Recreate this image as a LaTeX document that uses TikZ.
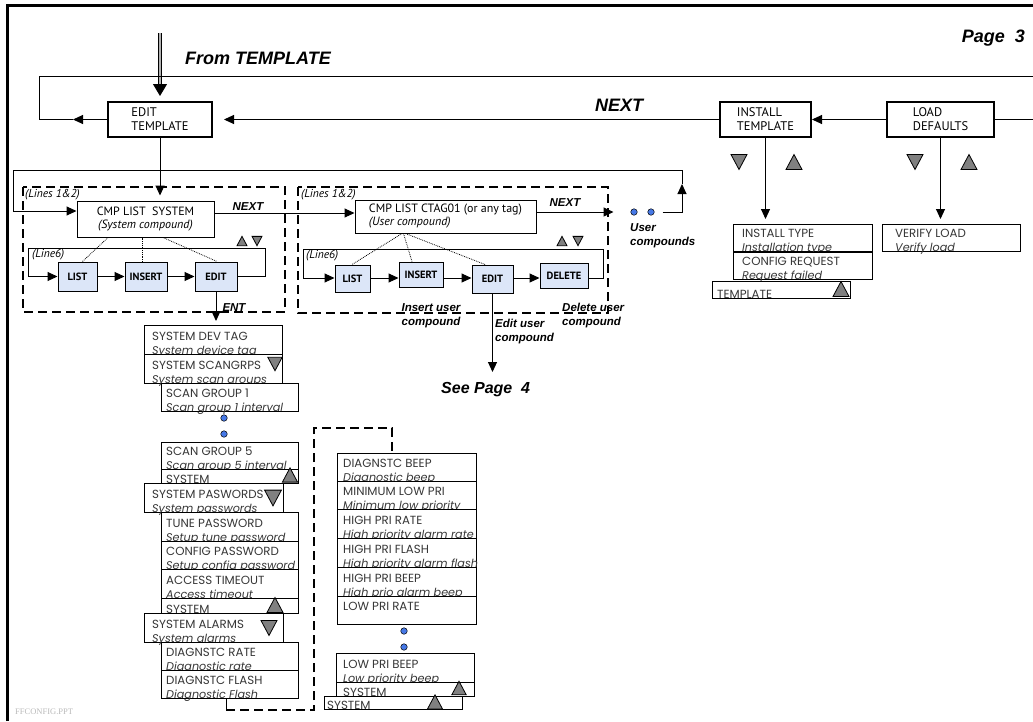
\documentclass[tikz,border=0pt]{standalone}
\usepackage{fontspec}
\setmainfont{Liberation Sans}
\newfontfamily\tahf{PT Sans}
\newfontfamily\cgf{Poppins}
\newfontfamily\serf{Liberation Serif}
\usetikzlibrary{arrows.meta}

\definecolor{btnblue}{RGB}{220,230,248}
\definecolor{dotblue}{RGB}{70,120,230}
\definecolor{trigray}{RGB}{128,128,128}
\definecolor{txtgray}{RGB}{55,55,55}

\tikzset{
  arr/.style={-{Triangle[length=10pt,width=9pt]}, line width=1pt},
  conn/.style={line width=1pt},
  tbox/.style={draw, line width=2pt, fill=white, align=left, inner sep=0pt,
    font=\tahf\fontsize{12.5}{14}\selectfont},
  cbox/.style={draw, line width=1pt, fill=white, inner sep=0pt,
    font=\tahf\fontsize{12}{13}\selectfont},
  bbox/.style={draw, line width=1pt, fill=btnblue, inner sep=0pt,
    font=\tahf\bfseries\fontsize{10.5}{13}\selectfont},
  lbox/.style={draw, line width=1.2pt, fill=white, anchor=north west, inner sep=0pt},
  ltx/.style={anchor=base west, inner sep=0pt, text=txtgray,
    font=\cgf\fontsize{11.8}{13}\selectfont},
  lit/.style={anchor=base west, inner sep=0pt, text=txtgray,
    font=\cgf\itshape\fontsize{11.2}{13}\selectfont},
  bi/.style={inner sep=0pt, font=\bfseries\itshape\fontsize{11.5}{14}\selectfont},
  smi/.style={inner sep=0pt, anchor=west, font=\tahf\itshape\fontsize{11.5}{13}\selectfont},
  udot/.style={circle, draw, line width=0.5pt, fill=dotblue, minimum size=6.5pt, inner sep=0pt},
  dashbox/.style={line width=1.2pt, dash pattern=on 9pt off 5pt},
  dotc/.style={line width=0.8pt, densely dotted},
  tup/.pic={\filldraw[fill=trigray, draw=black, line width=0.8pt] (-8,7.5) -- (8,7.5) -- (0,-7.5) -- cycle;},
  tdn/.pic={\filldraw[fill=trigray, draw=black, line width=0.8pt] (-8,-7.5) -- (8,-7.5) -- (0,7.5) -- cycle;}
}

\newcommand\LB[8]{%
  \node[lbox, minimum width=#4pt, minimum height=#5pt] (#1) at (#2,#3) {};
  \node[ltx] (#1-a) at ([xshift=#6pt,yshift=15pt]#1.south west) {#7};
  \node[lit] (#1-b) at ([xshift=#6pt,yshift=0.8pt]#1.south west) {#8};
}
\newcommand\LS[7]{%
  \node[lbox, minimum width=#4pt, minimum height=#5pt] (#1) at (#2,#3) {};
  \node[ltx] (#1-a) at ([xshift=#6pt,yshift=1.2pt]#1.south west) {#7};
}

\begin{document}
\begin{tikzpicture}[x=1pt, y=-1pt]
\useasboundingbox (0,0) rectangle (1033,721);

% frame
\draw[line width=3pt] (7,721) -- (7,5) -- (1033,5);

% titles
\node[bi, font=\bfseries\itshape\fontsize{18}{20}\selectfont, anchor=west] (fromtpl) at (185,58) {From TEMPLATE};
\node[bi, font=\bfseries\itshape\fontsize{18}{20}\selectfont, anchor=east] (page3) at (1025,38) {Page\ \ 3};
\node[bi, font=\bfseries\itshape\fontsize{18}{20}\selectfont] (next0) at (619,105) {NEXT};

% top boxes
\node[tbox, minimum width=104pt, minimum height=35pt] (edittpl) at (160,119.5) {EDIT\\TEMPLATE};
\node[tbox, minimum width=91pt, minimum height=35pt] (insttpl) at (765.5,119.5) {INSTALL\\TEMPLATE};
\node[tbox, minimum width=107pt, minimum height=35pt] (loaddef) at (940.5,119.5) {LOAD\\DEFAULTS};

% double arrow from top
\coordinate (ftop) at (160,33);
\draw[double=gray!60, double distance=2.5pt, line width=0.8pt] (ftop) -- ([yshift=15pt]edittpl.north);
\draw[-{Triangle[length=12pt,width=14pt]}, line width=1pt] ([yshift=16pt]edittpl.north) -- ([yshift=5pt]edittpl.north);

% loop left of edit template
\coordinate (elA) at (73,119.5);
\coordinate (elB) at (39,119.5);
\coordinate (elC) at (39,76);
\coordinate (elD) at (1033,76);
\draw[arr] (edittpl.west) -- (elA);
\draw[conn] (elA) -- (elB) -- (elC) -- (elD);

% NEXT row
\draw[arr, shorten >=11pt] (insttpl.west) -- (edittpl.east);
\draw[arr] (loaddef.west) -- (insttpl.east);
\coordinate (rEdge) at (1033,119.5);
\draw[conn] (loaddef.east) -- (rEdge);

% triangles under install / load
\pic at (739,162) {tdn};
\pic at (794,162) {tup};
\pic at (915,162) {tdn};
\pic at (969,162) {tup};

% dashed groups
\draw[dashbox] (23,187) rectangle (285,312);
\draw[dashbox] (298,187) rectangle (608,313);
\node[smi] (lines1) at (25,195) {(Lines 1\&2)};
\node[smi] (lines2) at (301,195) {(Lines 1\&2)};
\node[smi] (line6a) at (32,255) {(Line6)};
\node[smi] (line6b) at (306,256) {(Line6)};

% compound boxes
\node[cbox, minimum width=137pt, minimum height=36pt, align=center] (cmpsys) at (145.5,219) {CMP LIST\ \ SYSTEM\\\textit{(System compound)}};
\node[cbox, minimum width=181pt, minimum height=33pt, align=left] (ctag) at (445.5,216.5) {CMP LIST CTAG01 (or any tag)\\\textit{(User compound)}};

\draw[arr, shorten >=5pt] (edittpl.south) -- (edittpl.south |- cmpsys.north);

% buttons group 1
\node[bbox, minimum width=39pt, minimum height=29pt] (l1list) at (77.5,276.5) {LIST};
\node[bbox, minimum width=42pt, minimum height=29pt] (l1ins) at (146,276.5) {INSERT};
\node[bbox, minimum width=42pt, minimum height=29pt] (l1edit) at (216,276.5) {EDIT};
\draw[arr] (l1list.east) -- (l1ins.west);
\draw[arr] (l1ins.east) -- (l1edit.west);
\coordinate (g1a) at (265,248);
\coordinate (g1b) at (28,248);
\draw[arr] (l1edit.east) -| (g1a) -- (g1b) |- (l1list.west);
\pic[scale=0.62] at (242,241) {tup};
\pic[scale=0.62] at (257,241) {tdn};
\draw[dotc] ([xshift=-37.5pt]cmpsys.south) -- ([xshift=5pt]l1list.north);
\draw[dotc] ([xshift=-3.5pt]cmpsys.south) -- ([xshift=-4pt]l1ins.north);
\draw[dotc] ([xshift=17.5pt]cmpsys.south) -- ([xshift=1pt]l1edit.north);

% buttons group 2
\coordinate (r2) at (0,278);
\node[bbox, minimum width=35pt, minimum height=27pt] (l2list) at (352.5,278.5) {LIST};
\node[bbox, minimum width=44pt, minimum height=25pt] (l2ins) at (421,274.5) {INSERT};
\node[bbox, minimum width=41pt, minimum height=28pt] (l2edit) at (492.5,279) {EDIT};
\node[bbox, minimum width=48pt, minimum height=25pt] (l2del) at (564,275.5) {DELETE};
\draw[arr] (l2list.east |- r2) -- (l2ins.west |- r2);
\draw[arr] (l2ins.east |- r2) -- (l2edit.west |- r2);
\draw[arr] (l2edit.east |- r2) -- (l2del.west |- r2);
\coordinate (g2a) at (603,249);
\coordinate (g2b) at (303,249);
\draw[arr] (l2del.east |- r2) -| (g2a) -- (g2b) |- (l2list.west |- r2);
\pic[scale=0.62] at (562,241) {tup};
\pic[scale=0.62] at (578,241) {tdn};
\draw[dotc] ([xshift=-43.5pt]ctag.south) -- ([xshift=-0.5pt]l2list.north);
\draw[dotc] ([xshift=-42pt]ctag.south) -- ([xshift=-9pt]l2ins.north);
\draw[dotc] ([xshift=-40pt]ctag.south) -- ([xshift=-7.5pt]l2edit.north);

% NEXT arrows and user compounds
\draw[arr] ([yshift=6pt]cmpsys.east) -- ([yshift=3.5pt]ctag.west);
\node[bi] (next1) at (248,207) {NEXT};
\node[udot] (ud1) at (634,212) {};
\node[udot] (ud2) at (651,212) {};
\draw[arr, shorten >=17pt] ([yshift=4.5pt]ctag.east) -- (ud1.west);
\node[bi] (next2) at (565,203) {NEXT};
\node[bi, anchor=west, align=left] (ucmp) at (630,236) {User\\compounds};
\coordinate (lpU) at (682,184);
\coordinate (lpA) at (682,170);
\coordinate (lpB) at (13,170);
\draw[arr] ([xshift=8pt]ud2.east) -| (lpU);
\draw[arr] (lpU) -- (lpA) -- (lpB) |- ([yshift=8pt]cmpsys.west);

% labels under group 2
\node[bi, align=center] (insu) at (431,316) {Insert user\\compound};
\node[bi, anchor=west, align=left] (editu) at (495,332) {Edit user\\compound};
\node[bi, anchor=west, align=left] (delu) at (562,316) {Delete user\\compound};
\coordinate (seep) at (492.5,372);
\draw[arr] (l2edit.south) -- (seep);
\node[bi, font=\bfseries\itshape\fontsize{16}{18}\selectfont, anchor=west] (seepage) at (441,390) {See Page\ \ 4};

% column 1 list
\LB{sdt}{144}{325}{138}{29}{8}{SYSTEM DEV TAG}{System device tag}
\draw[arr, shorten >=4pt] (l1edit.south) -- (l1edit.south |- sdt.north);
\node[bi] (ent) at (234,308) {ENT};
\LB{ssg}{144}{354}{138}{29}{8}{SYSTEM SCANGRPS}{System scan groups}
\pic[scale=0.9] at (275,364) {tdn};
\LB{sg1}{161}{383}{137}{28}{5}{SCAN GROUP 1}{Scan group 1 interval}
\node[udot] (c1d1) at (224,418) {};
\node[udot] (c1d2) at (224,434) {};
\LB{sg5}{161}{442}{137}{27}{5}{SCAN GROUP 5}{Scan group 5 interval}
\LS{sys1}{161}{469}{137}{14}{5}{SYSTEM}
\pic[scale=0.95] at (290,475) {tup};
\LB{spw}{144}{483}{139}{29}{8}{SYSTEM PASWORDS}{System passwords}
\pic[scale=1.05] at (273,498) {tdn};
\LB{tpw}{161}{512}{137}{29}{5}{TUNE PASSWORD}{Setup tune password}
\LB{cpw}{161}{541}{137}{28}{5}{CONFIG PASSWORD}{Setup config password}
\LB{atm}{161}{569}{137}{29}{5}{ACCESS TIMEOUT}{Access timeout}
\LS{sys2}{161}{598}{137}{15}{5}{SYSTEM}
\pic[scale=1.0] at (275,605) {tup};
\LB{sal}{144}{613}{139}{29}{8}{SYSTEM ALARMS}{System alarms}
\pic[scale=1.0] at (269,628) {tdn};
\LB{drt}{161}{642}{137}{28}{5}{DIAGNSTC RATE}{Diagnostic rate}
\LB{dfl}{161}{670}{137}{28}{5}{DIAGNSTC FLASH}{Diagnostic Flash}

% column 2 list
\LB{dbp}{337}{453}{139}{28}{6}{DIAGNSTC BEEP}{Diagnostic beep}
\LB{mlp}{337}{481}{139}{28}{6}{MINIMUM LOW PRI}{Minimum low priority}
\LB{hpr}{337}{509}{139}{29}{6}{HIGH PRI RATE}{High priority alarm rate}
\LB{hpf}{337}{538}{139}{29}{6}{HIGH PRI FLASH}{High priority alarm flash}
\LB{hpb}{337}{567}{139}{29}{6}{HIGH PRI BEEP}{High prio alarm beep}
\LB{lpr}{337}{596}{139}{28}{6}{LOW PRI RATE}{}
\node[udot] (c2d1) at (404,631) {};
\node[udot] (c2d2) at (404,647) {};
\LB{lpb}{336}{653}{138}{29}{7}{LOW PRI BEEP}{Low priority beep}
\LS{sys3}{336}{682}{138}{14}{7}{SYSTEM}
\pic[scale=0.9] at (459,688) {tup};
\LS{sys4}{324}{696}{138}{13}{3}{SYSTEM}
\pic[scale=0.95] at (435,702) {tup};

% dashed connector between columns
\coordinate (dA) at (226,710);
\coordinate (dB) at (314,710);
\coordinate (dC) at (314,428);
\coordinate (dD) at (392,428);
\draw[conn] (dfl.south -| dA) -- (dA);
\draw[dashbox] (dA) -- (dB) -- (dC) -- (dD) -- (dD |- dbp.north);

% right side lists
\LB{itp}{733}{224}{139}{27}{9}{INSTALL TYPE}{Installation type}
\LB{crq}{733}{252}{139}{27}{9}{CONFIG REQUEST}{Request failed}
\LS{tpl}{712}{281}{138}{17}{5}{TEMPLATE}
\pic[scale=1.0] at (841,289) {tup};
\LB{vfl}{882}{224}{138}{27}{13}{VERIFY LOAD}{Verify load}
\draw[arr, shorten >=5pt] (insttpl.south) -- (insttpl.south |- itp.north);
\draw[arr, shorten >=5pt] (loaddef.south) -- (loaddef.south |- vfl.north);

% footer
\node[inner sep=0pt, anchor=west, text=gray!55, font=\serf\fontsize{8.5}{10}\selectfont] (foot) at (15,712) {FFCONFIG.PPT};
\end{tikzpicture}
\end{document}
